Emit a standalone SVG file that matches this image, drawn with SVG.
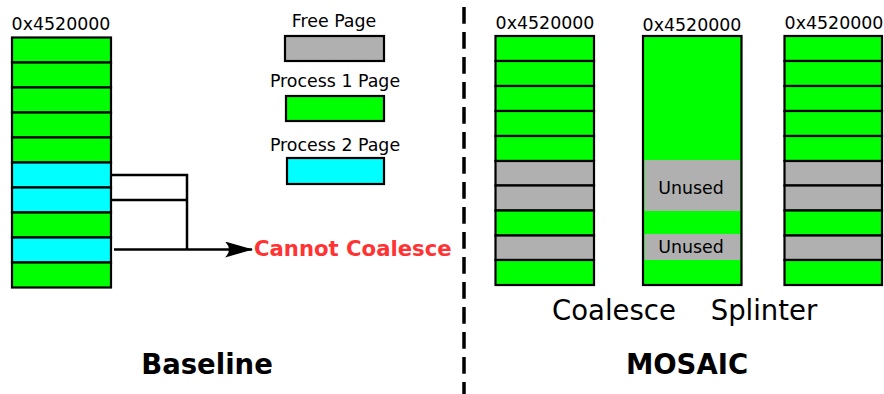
<svg xmlns="http://www.w3.org/2000/svg" width="884" height="394" viewBox="0 0 884 394">
<style>
.t{font-family:"DejaVu Sans",sans-serif;font-size:17.4px;fill:#000}
.b{font-family:"DejaVu Sans",sans-serif;font-weight:bold;fill:#000}
.g{fill:#00ff00;stroke:#000;stroke-width:2.2}
.c{fill:#00ffff;stroke:#000;stroke-width:2.2}
.f{fill:#b0b0b0;stroke:#000;stroke-width:2.2}
.w{fill:none;stroke:#000;stroke-width:2.5}
</style>
<defs>
<marker id="arr" viewBox="0 0 28 16" refX="27" refY="8" markerWidth="28" markerHeight="16" markerUnits="userSpaceOnUse" orient="auto">
<path d="M0,0 L28,8 L0,16 Q8,8 0,0 Z" fill="#000"/>
</marker>
</defs>
<rect width="884" height="394" fill="#fff"/>

<g id="baseline-column">
<text class="t" x="61" y="30" text-anchor="middle">0x4520000</text>
<rect class="g" x="12" y="37.5" width="99" height="25"/>
<rect class="g" x="12" y="62.5" width="99" height="25"/>
<rect class="g" x="12" y="87.5" width="99" height="25"/>
<rect class="g" x="12" y="112.5" width="99" height="25"/>
<rect class="g" x="12" y="137.5" width="99" height="25"/>
<rect class="c" x="12" y="162.5" width="99" height="25"/>
<rect class="c" x="12" y="187.5" width="99" height="25"/>
<rect class="g" x="12" y="212.5" width="99" height="25"/>
<rect class="c" x="12" y="237.5" width="99" height="25"/>
<rect class="g" x="12" y="262.5" width="99" height="25"/>
</g>

<g id="connectors">
<polyline class="w" points="111,175 187,175 187,249.5"/>
<line class="w" x1="111" y1="200" x2="187" y2="200"/>
<line class="w" x1="114" y1="249.5" x2="252" y2="249.5" marker-end="url(#arr)"/>
<line x1="464" y1="7" x2="464" y2="394" stroke="#000" stroke-width="3.5" stroke-dasharray="16.7 8.3"/>
</g>

<g id="cannot-coalesce">
<text class="b" x="254" y="256" font-size="21.2" style="fill:#ff3333">Cannot Coalesce</text>
</g>

<g id="legend">
<text class="t" x="334" y="27" text-anchor="middle">Free Page</text>
<rect class="f" x="285" y="36" width="99" height="25"/>
<text class="t" x="335" y="87" text-anchor="middle">Process 1 Page</text>
<rect class="g" x="286" y="96" width="98" height="25"/>
<text class="t" x="335" y="151" text-anchor="middle">Process 2 Page</text>
<rect class="c" x="287" y="158" width="97" height="26"/>
</g>

<g id="mosaic-coalesce-column">
<text class="t" x="545" y="29" text-anchor="middle">0x4520000</text>
<rect class="g" x="495.5" y="36" width="98.5" height="25"/>
<rect class="g" x="495.5" y="61" width="98.5" height="25"/>
<rect class="g" x="495.5" y="86" width="98.5" height="25"/>
<rect class="g" x="495.5" y="111" width="98.5" height="25"/>
<rect class="g" x="495.5" y="136" width="98.5" height="25"/>
<rect class="f" x="495.5" y="161" width="98.5" height="24.5"/>
<rect class="f" x="495.5" y="185.5" width="98.5" height="25"/>
<rect class="g" x="495.5" y="210.5" width="98.5" height="25"/>
<rect class="f" x="495.5" y="235.5" width="98.5" height="24.5"/>
<rect class="g" x="495.5" y="260" width="98.5" height="25"/>
</g>

<g id="mosaic-splinter-column">
<text class="t" x="692" y="31" text-anchor="middle">0x4520000</text>
<rect class="g" x="643" y="36" width="98.5" height="249" stroke-width="2.8"/>
<rect x="644.5" y="160" width="95.5" height="51" fill="#b0b0b0"/>
<rect x="644.5" y="234" width="95.5" height="26" fill="#b0b0b0"/>
<text class="t" x="691" y="193.5" text-anchor="middle">Unused</text>
<text class="t" x="691" y="252.5" text-anchor="middle">Unused</text>
</g>

<g id="mosaic-third-column">
<text class="t" x="834" y="29" text-anchor="middle">0x4520000</text>
<rect class="g" x="784.5" y="36" width="97.5" height="25"/>
<rect class="g" x="784.5" y="61" width="97.5" height="25"/>
<rect class="g" x="784.5" y="86" width="97.5" height="25"/>
<rect class="g" x="784.5" y="111" width="97.5" height="25"/>
<rect class="g" x="784.5" y="136" width="97.5" height="25"/>
<rect class="f" x="784.5" y="161" width="97.5" height="24.5"/>
<rect class="f" x="784.5" y="185.5" width="97.5" height="25"/>
<rect class="g" x="784.5" y="210.5" width="97.5" height="25"/>
<rect class="f" x="784.5" y="235.5" width="97.5" height="24.5"/>
<rect class="g" x="784.5" y="260" width="97.5" height="25"/>
</g>

<g id="captions">
<text class="t" x="614" y="319.5" style="font-size:27.5px" text-anchor="middle">Coalesce</text>
<text class="t" x="764" y="319.5" style="font-size:27.5px" text-anchor="middle">Splinter</text>
<text class="b" x="207" y="373.5" font-size="27.5" text-anchor="middle">Baseline</text>
<text class="b" x="687" y="373.5" font-size="27.5" text-anchor="middle">MOSAIC</text>
</g>
</svg>
